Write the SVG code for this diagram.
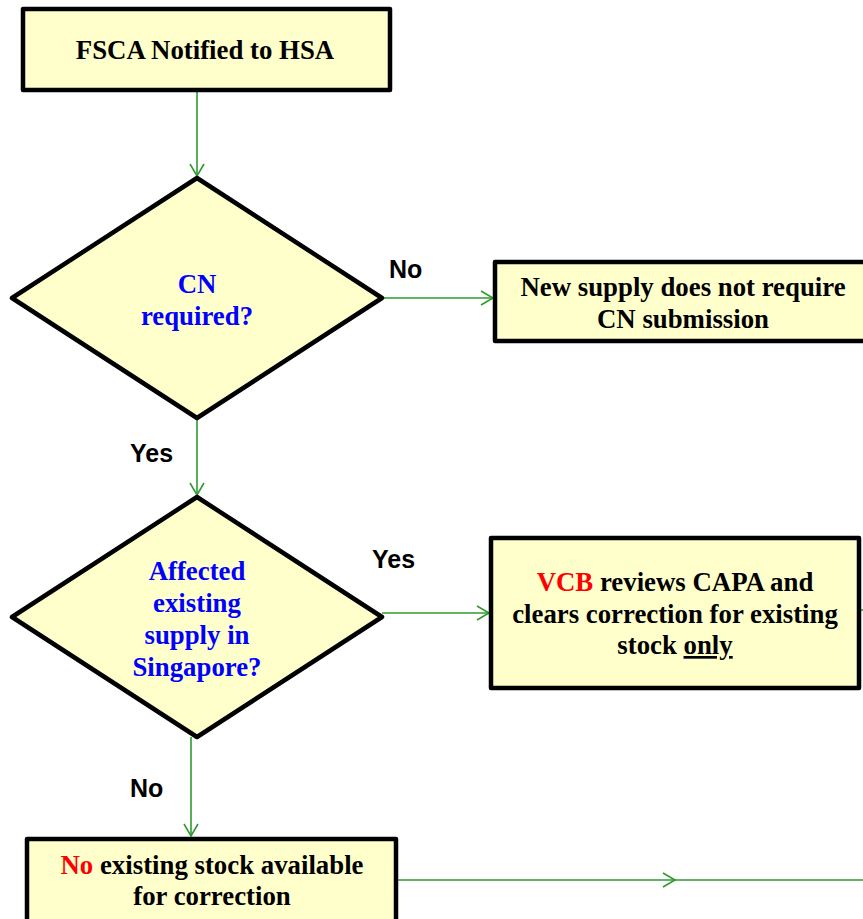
<svg xmlns="http://www.w3.org/2000/svg" width="863" height="919" viewBox="0 0 863 919">
  <style>
    .box { fill: #FFFFCC; stroke: #000; stroke-width: 4.5; stroke-linejoin: round; }
    .t { font-family: "Liberation Serif", "Times New Roman", serif; font-weight: bold; font-size: 26.8px; fill: #000; text-anchor: middle; }
    .q { fill: #0000FF; }
    .red { fill: #FF0000; }
    .lbl { font-family: "Liberation Sans", Arial, sans-serif; font-weight: bold; font-size: 25px; fill: #000; }
    .conn { fill: none; stroke: #2F9A2F; stroke-width: 1.6; }
  </style>
  <defs>
    <marker id="arrow" markerUnits="userSpaceOnUse" markerWidth="16" markerHeight="18" viewBox="-14 -9 16 18" refX="0" refY="0" orient="auto">
      <path d="M-12,-7 L0,0 L-12,7" fill="none" stroke="#2F9A2F" stroke-width="1.6"/>
    </marker>
  </defs>
  <rect width="863" height="919" fill="#FFFFFF"/>

  <!-- connectors -->
  <g id="connectors">
    <path class="conn" d="M197,91 L197,176" marker-end="url(#arrow)"/>
    <path class="conn" d="M382,298 L493,298" marker-end="url(#arrow)"/>
    <path class="conn" d="M197,418 L197,495" marker-end="url(#arrow)"/>
    <path class="conn" d="M382,613 L489,613" marker-end="url(#arrow)"/>
    <path class="conn" d="M191,737 L191,836" marker-end="url(#arrow)"/>
    <path class="conn" d="M397,880 L675,880" marker-end="url(#arrow)"/>
    <path class="conn" d="M675,880 L863,880"/>
    <path class="conn" d="M860,610 L863,610"/>
    <text class="lbl" x="389" y="278">No</text>
    <text class="lbl" x="130" y="462">Yes</text>
    <text class="lbl" x="372" y="568">Yes</text>
    <text class="lbl" x="130" y="797">No</text>
  </g>

  <g id="fsca-notified">
    <rect class="box" x="23" y="9" width="367" height="81"/>
    <text class="t" x="205" y="59">FSCA Notified to HSA</text>
  </g>

  <g id="cn-required">
    <polygon class="box" points="197,178 382,298 197,418 12,298"/>
    <text class="t q" x="197" y="293">CN</text>
    <text class="t q" x="197" y="325">required?</text>
  </g>

  <g id="no-cn-needed">
    <rect class="box" x="495" y="262" width="380" height="79"/>
    <text class="t" x="683" y="296">New supply does not require</text>
    <text class="t" x="683" y="328">CN submission</text>
  </g>

  <g id="existing-supply">
    <polygon class="box" points="197,497 382,617 197,737 12,617"/>
    <text class="t q" x="197" y="580">Affected</text>
    <text class="t q" x="197" y="612">existing</text>
    <text class="t q" x="197" y="644">supply in</text>
    <text class="t q" x="197" y="676">Singapore?</text>
  </g>

  <g id="vcb-review">
    <rect class="box" x="491" y="538" width="368" height="150"/>
    <text class="t" x="675" y="591"><tspan class="red">VCB</tspan> reviews CAPA and</text>
    <text class="t" x="675" y="623">clears correction for existing</text>
    <text class="t" x="675" y="654">stock <tspan text-decoration="underline">only</tspan></text>
  </g>

  <g id="no-stock">
    <rect class="box" x="27" y="839" width="369" height="100"/>
    <text class="t" x="212" y="874"><tspan class="red">No</tspan> existing stock available</text>
    <text class="t" x="212" y="905">for correction</text>
  </g>
</svg>
